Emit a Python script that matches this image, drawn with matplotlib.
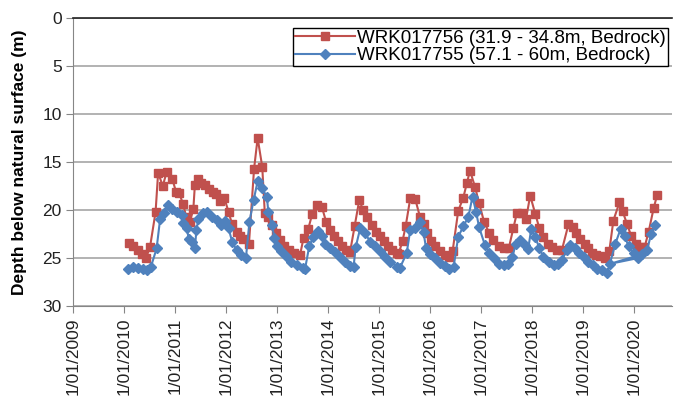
import matplotlib
matplotlib.use("Agg")
import matplotlib.pyplot as plt

plt.rcParams['font.family'] = ['Liberation Sans', 'DejaVu Sans']

red_label = "WRK017756 (31.9 - 34.8m, Bedrock)"
blue_label = "WRK017755 (57.1 - 60m, Bedrock)"

red_t = [2010.10, 2010.18, 2010.27, 2010.35, 2010.43, 2010.51, 2010.62, 2010.67, 2010.76, 2010.84,
         2010.95, 2011.02, 2011.08, 2011.16, 2011.22, 2011.29, 2011.36, 2011.39, 2011.45, 2011.51,
         2011.59, 2011.67, 2011.75, 2011.80, 2011.88, 2011.97, 2012.05, 2012.12, 2012.21, 2012.27,
         2012.34, 2012.45, 2012.55, 2012.62, 2012.71, 2012.76, 2012.83, 2012.91, 2012.97, 2013.06,
         2013.14, 2013.24, 2013.34, 2013.45, 2013.52, 2013.61, 2013.69, 2013.78, 2013.88, 2013.96,
         2014.04, 2014.12, 2014.19, 2014.27, 2014.35, 2014.43, 2014.52, 2014.61, 2014.69, 2014.77,
         2014.86, 2014.94, 2015.02, 2015.10, 2015.18, 2015.26, 2015.35, 2015.38, 2015.46, 2015.52,
         2015.61, 2015.71, 2015.80, 2015.87, 2015.94, 2016.02, 2016.10, 2016.20, 2016.29, 2016.37,
         2016.44, 2016.55, 2016.65, 2016.72, 2016.78, 2016.88, 2016.96, 2017.06, 2017.16, 2017.24,
         2017.34, 2017.44, 2017.54, 2017.63, 2017.70, 2017.80, 2017.88, 2017.96, 2018.06, 2018.14,
         2018.22, 2018.31, 2018.39, 2018.48, 2018.58, 2018.71, 2018.79, 2018.86, 2018.94, 2019.03,
         2019.10, 2019.18, 2019.25, 2019.33, 2019.42, 2019.51, 2019.59, 2019.71, 2019.77, 2019.86,
         2019.94, 2020.03, 2020.12, 2020.20, 2020.28, 2020.38, 2020.45]
red_depth = [23.4, 23.7, 24.2, 24.6, 25.0, 23.9, 20.2, 16.1, 17.5, 16.0,
             16.8, 18.1, 18.2, 19.4, 20.7, 21.3, 19.9, 17.4, 16.8, 17.2,
             17.4, 17.8, 18.1, 18.3, 19.1, 18.8, 20.2, 21.5, 22.3, 22.7,
             23.0, 23.5, 15.7, 12.5, 15.5, 20.3, 20.7, 21.6, 22.4, 23.1,
             23.8, 24.2, 24.5, 24.7, 22.9, 22.0, 20.4, 19.5, 19.7, 21.2,
             22.1, 22.7, 23.2, 23.7, 24.2, 24.4, 21.7, 19.0, 20.0, 20.7,
             21.6, 22.3, 22.7, 23.2, 23.7, 24.2, 24.5, 24.6, 23.2, 21.7,
             18.8, 18.9, 20.7, 21.5, 22.4, 23.2, 23.8, 24.3, 24.7, 24.9,
             24.3, 20.1, 18.7, 17.2, 15.9, 17.6, 19.3, 21.3, 22.4, 23.1,
             23.7, 24.0, 24.0, 21.9, 20.3, 20.3, 20.9, 18.5, 20.4, 21.9,
             22.8, 23.5, 23.9, 24.2, 24.2, 21.5, 21.8, 22.4, 23.0, 23.5,
             24.0, 24.5, 24.7, 24.8, 25.0, 24.3, 21.1, 19.2, 20.1, 21.5,
             22.7, 23.5, 23.9, 23.9, 22.3, 19.8, 18.4]

# listed in logger record order (one late-entered reading sits out of date order)
blue_t = [2010.08, 2010.18, 2010.28, 2010.38, 2010.45, 2010.53, 2010.64, 2010.71, 2010.78, 2010.86,
          2010.94, 2011.03, 2011.13, 2011.16, 2011.23, 2011.27, 2011.33, 2011.39, 2011.42, 2011.46,
          2011.54, 2011.62, 2011.72, 2011.82, 2011.90, 2011.98, 2012.05, 2012.12, 2012.21, 2012.29,
          2012.39, 2012.46, 2012.54, 2012.62, 2012.70, 2012.80, 2012.83, 2012.90, 2012.95, 2012.99,
          2013.08, 2013.17, 2013.27, 2013.39, 2013.50, 2013.55, 2013.63, 2013.71, 2013.80, 2013.88,
          2013.94, 2014.04, 2014.14, 2014.24, 2014.33, 2014.43, 2014.50, 2014.54, 2014.63, 2014.73,
          2014.82, 2014.92, 2015.02, 2015.12, 2015.22, 2015.35, 2015.41, 2015.54, 2015.61, 2015.71,
          2015.80, 2015.87, 2015.92, 2016.00, 2016.10, 2016.20, 2016.29, 2016.36, 2016.46, 2016.55,
          2016.65, 2016.75, 2016.83, 2016.90, 2016.96, 2017.07, 2017.16, 2017.26, 2017.35, 2017.44,
          2017.52, 2017.61, 2017.68, 2017.76, 2017.85, 2017.92, 2017.98, 2018.06, 2018.14, 2018.22,
          2018.32, 2018.42, 2018.50, 2018.58, 2018.68, 2018.75, 2018.83, 2018.91, 2019.01, 2019.10,
          2019.20, 2019.27, 2019.37, 2019.47, 2019.63, 2019.73, 2019.81, 2019.89, 2019.99, 2020.08,
          2019.53, 2020.16, 2020.25, 2020.33, 2020.41]
blue_depth = [26.1, 25.9, 26.0, 26.1, 26.25, 25.9, 24.0, 20.9, 20.3, 19.5,
              19.9, 20.2, 20.5, 21.4, 21.9, 23.0, 23.3, 24.0, 22.1, 20.9,
              20.3, 20.2, 20.7, 21.0, 21.6, 21.1, 21.9, 23.3, 24.2, 24.7,
              25.0, 21.2, 19.0, 17.0, 17.7, 18.6, 20.2, 21.6, 22.9, 23.8,
              24.3, 24.8, 25.4, 25.7, 26.0, 26.1, 23.8, 22.8, 22.2, 22.7,
              23.5, 24.0, 24.4, 24.9, 25.4, 25.8, 25.9, 23.9, 21.9, 22.4,
              23.3, 23.8, 24.3, 24.9, 25.4, 25.9, 26.0, 24.5, 22.1, 21.9,
              21.3, 22.3, 24.0, 24.6, 25.0, 25.5, 25.8, 26.1, 25.9, 22.8,
              21.7, 20.7, 18.6, 20.2, 21.8, 23.6, 24.5, 25.0, 25.6, 25.7,
              25.6, 24.9, 23.5, 23.1, 23.6, 24.1, 22.0, 22.8, 24.0, 24.9,
              25.4, 25.7, 25.6, 25.2, 24.2, 23.6, 24.0, 24.5, 24.9, 25.4,
              25.7, 26.1, 26.3, 26.6, 23.5, 22.0, 22.7, 23.8, 24.5, 25.0,
              25.6, 24.6, 24.2, 22.5, 21.6]

years = list(range(2009, 2021))
tick_labels = [f"1/01/{y}" for y in years]
y_ticks = [0, 5, 10, 15, 20, 25, 30]

RED = "#C0504D"
BLUE = "#4F81BD"

fig = plt.figure(figsize=(6.75, 4.05), dpi=100)
ax = fig.add_axes([0.108, 0.2444, 0.888, 0.7112])

ax.plot(red_t, red_depth, color=RED, lw=1.5, marker='s', ms=5.5,
        markerfacecolor=RED, markeredgecolor=RED, label=red_label, zorder=3)
ax.plot(blue_t, blue_depth, color=BLUE, lw=1.5, marker='D', ms=4.6,
        markerfacecolor=BLUE, markeredgecolor=BLUE, label=blue_label, zorder=4)

ax.set_xlim(2009.0, 2020.745)
ax.set_ylim(30, 0)
ax.set_yticks(y_ticks)
ax.set_xticks(years)
ax.set_xticklabels(tick_labels, rotation=90, fontsize=12.5, color="#222222")
ax.tick_params(axis='y', labelsize=12.5, length=5, color="#868686", pad=3, labelcolor="#222222")
ax.tick_params(axis='x', length=5, color="#868686", pad=3)

ax.grid(axis='y', color="#A6A6A6", lw=1.2)
ax.set_axisbelow(True)
ax.spines['right'].set_visible(False)
ax.spines['top'].set_color("#222222")
ax.spines['top'].set_linewidth(1.2)
ax.spines['left'].set_color("#868686")
ax.spines['bottom'].set_color("#868686")

ax.set_ylabel("Depth below natural surface (m)", fontsize=12.5, fontweight='bold', labelpad=11)

leg = ax.legend(loc='upper right', bbox_to_anchor=(0.9928, 0.9653), fontsize=13.5,
                frameon=True, fancybox=False, edgecolor="#000000", framealpha=1,
                borderpad=0.1, labelspacing=0.0, handlelength=3.2, handletextpad=0.15,
                borderaxespad=0)
leg.get_frame().set_linewidth(1.0)

fig.savefig("out.png", dpi=100)
